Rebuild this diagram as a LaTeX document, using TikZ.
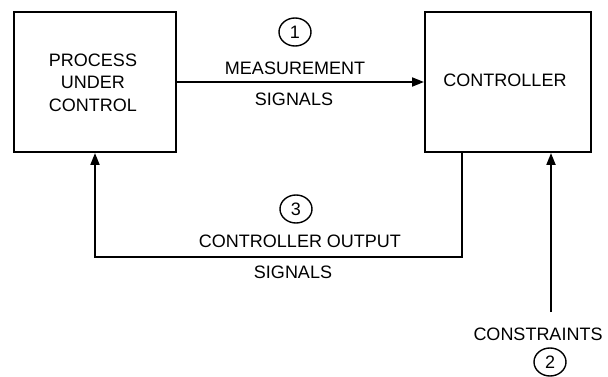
\documentclass[tikz,border=0pt]{standalone}
\usepackage{fontspec}
\setmainfont{Liberation Sans}
\usetikzlibrary{arrows.meta,calc,shapes.geometric}
\begin{document}
\begin{tikzpicture}[x=1pt,y=-1pt,
  every node/.style={font=\fontsize{18}{22.5}\selectfont},
  blk/.style={draw,line width=2pt,inner sep=0pt},
  lbl/.style={anchor=base,inner sep=0pt},
  num/.style={draw,ellipse,line width=1.4pt,minimum width=32pt,minimum height=28pt,inner sep=0pt},
  conn/.style={line width=2pt},
  arr/.style={conn,-{Triangle[length=12pt,width=9pt]}}]
\useasboundingbox (0,0) rectangle (608,377);
\node[blk,minimum width=162pt,minimum height=140pt] (P) at (95,82) {};
\node[align=center] (Pt) at (93,82.5) {PROCESS\\UNDER\\CONTROL};
\node[blk,minimum width=166pt,minimum height=140pt] (C) at (508,82) {};
\node (Ct) at (505,80) {CONTROLLER};
% measurement
\draw[arr] (P.east) -- (C.west);
\node[num] (n1) at (295,32) {1};
\node[lbl] (m1) at (295,75) {MEASUREMENT};
\node[lbl] (m2) at (294,106) {SIGNALS};
% controller output
\coordinate (co) at (462,257);
\draw[arr] (C.south -| co) -- (co) -| (P.south);
\node[num] (n3) at (296,209) {3};
\node[lbl] (o1) at (300,247) {CONTROLLER OUTPUT};
\node[lbl] (o2) at (293,278) {SIGNALS};
% constraints
\coordinate (cs) at (551,312);
\draw[arr] (cs) -- (cs |- C.south);
\node[lbl] (k1) at (538,340) {CONSTRAINTS};
\node[num] (n2) at (550,362) {2};
\end{tikzpicture}
\end{document}
